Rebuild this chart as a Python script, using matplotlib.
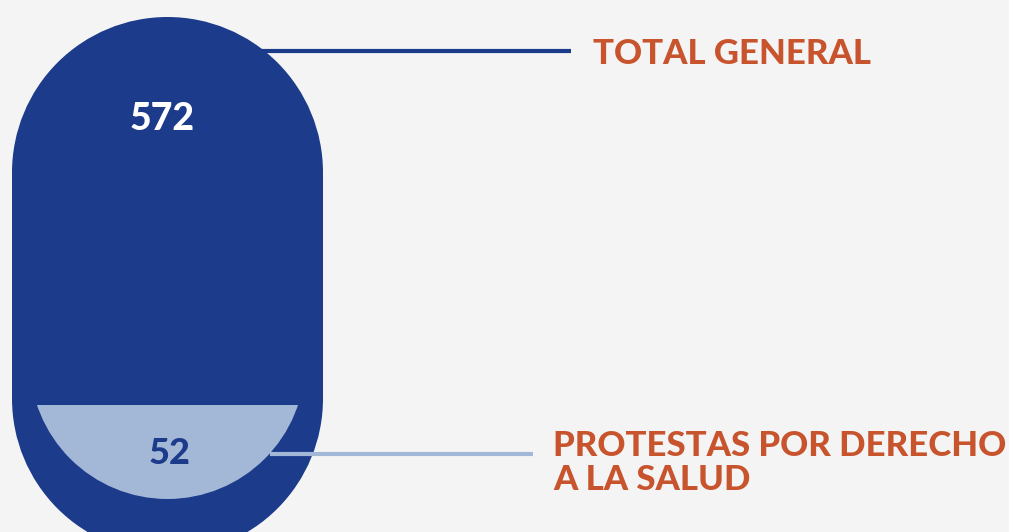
import matplotlib
matplotlib.use('Agg')
import matplotlib.pyplot as plt
from matplotlib.patches import Circle, Rectangle

# data
labels = ['TOTAL GENERAL', 'PROTESTAS POR DERECHO\nA LA SALUD']
values = [572, 52]

dark_blue = '#1c3b8a'
light_blue = '#a3b8d7'
orange = '#c8542e'
bg = '#f4f4f4'

plt.rcParams['font.family'] = ['Lato', 'DejaVu Sans']

fig = plt.figure(figsize=(10.09, 5.32), dpi=100, facecolor=bg)
ax = fig.add_axes([0, 0, 1, 1])
ax.set_xlim(0, 1009)
ax.set_ylim(532, 0)
ax.set_aspect('equal')
ax.axis('off')
ax.set_facecolor(bg)

# pill shape (total)
cx, r = 167.5, 155.5
top_c, bot_c = 172.5, 398.6
ax.add_patch(Circle((cx, top_c), r, color=dark_blue, lw=0, zorder=2))
ax.add_patch(Circle((cx, bot_c), r, color=dark_blue, lw=0, zorder=2))
ax.add_patch(Rectangle((cx - r, top_c), 2 * r, bot_c - top_c, color=dark_blue, lw=0, zorder=2))

# inner part (salud)
inner = Circle((cx, 361.4), 137.6, color=light_blue, lw=0, zorder=3)
ax.add_patch(inner)
clip = Rectangle((0, 405), 1009, 200, transform=ax.transData, visible=False)
ax.add_patch(clip)
inner.set_clip_path(clip)

# connector lines
ax.plot([250, 571], [51, 51], color=dark_blue, lw=3, zorder=1, solid_capstyle='butt')
ax.plot([270, 533], [453.5, 453.5], color=light_blue, lw=3, zorder=4, solid_capstyle='butt')

# values
ax.text(162, 119, str(values[0]), color='white', fontsize=27, fontweight='black',
        ha='center', va='center', zorder=5)
ax.text(170, 453, str(values[1]), color=dark_blue, fontsize=26, fontweight='black',
        ha='center', va='center', zorder=5)

# labels
ax.text(593, 54, labels[0], color=orange, fontsize=25, fontweight='black',
        ha='left', va='center')
ax.text(553, 463, labels[1], color=orange, fontsize=25, fontweight='black',
        ha='left', va='center', linespacing=1.05)

fig.savefig('out.png', dpi=100, facecolor=bg)
